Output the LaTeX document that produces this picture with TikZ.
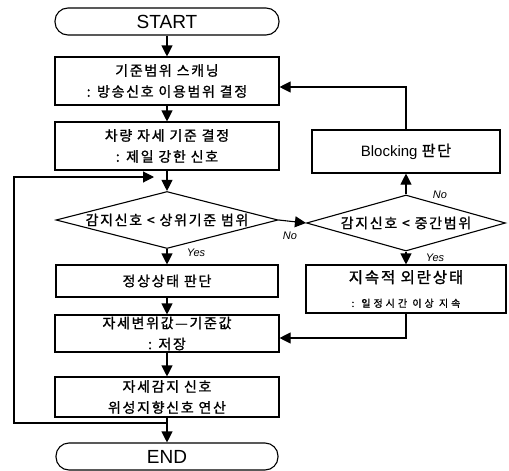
\documentclass[tikz,border=0pt]{standalone}
\usepackage{fontspec}
\setmainfont{Liberation Sans}
\newfontfamily\kr[LetterSpace=12,FakeBold=1.2]{Noto Sans CJK KR}
\usetikzlibrary{arrows.meta,shapes.geometric,calc}
\tikzset{
 box/.style={draw, line width=1.1pt, minimum width=224pt, minimum height=48pt, inner sep=0pt, align=center, font=\kr\fontsize{14}{21}\selectfont},
 term/.style={draw, line width=1.1pt, rounded corners=13pt, minimum width=224pt, minimum height=27pt, inner sep=0pt, font=\fontsize{19}{19}\selectfont},
 dia/.style={draw, diamond, line width=1.1pt, inner sep=0pt, font=\kr\fontsize{14}{14}\selectfont},
 arr/.style={line width=1.1pt, -{Triangle[length=11pt,width=11pt]}},
 ln/.style={line width=1.1pt},
 yn/.style={font=\itshape\fontsize{11}{11}\selectfont, inner sep=0pt},
}
\begin{document}
\begin{tikzpicture}[x=1pt,y=-1pt]
\useasboundingbox (0,0) rectangle (509,471);
\node[term] (start) at (167,21.5) {START};
\node[box] (b1) at (167,81) {기준범위 스캐닝\\: 방송신호 이용범위 결정};
\node[box] (b2) at (167,146) {차량 자세 기준 결정\\: 제일 강한 신호};
\node[dia, minimum width=222pt, minimum height=57pt] (d1) at (167,220) {\makebox[0pt]{감지신호 < 상위기준 범위}};
\node[box, minimum width=222pt, minimum height=32pt] (b3) at (167,281) {정상상태 판단};
\node[box, minimum height=37pt] (b4) at (167,333.5) {자세변위값—기준값\\: 저장};
\node[box, minimum height=40pt] (b5) at (167,397) {자세감지 신호\\위성지향신호 연산};
\node[term, minimum width=222pt] (end) at (167,456.5) {END};
\node[box, minimum width=188pt, minimum height=43pt, font=\fontsize{15}{15}\selectfont] (blk) at (406,151.5) {Blocking {\kr 판단}};
\node[dia, minimum width=199pt, minimum height=56pt] (d2) at (406,223) {\makebox[0pt]{감지신호 < 중간범위}};
\node[box, minimum width=200pt, minimum height=48pt] (b6) at (406,289) {{\fontsize{15.5}{15.5}\selectfont 지속적 외란상태}\\[3pt]{\fontsize{10}{10}\selectfont\addfontfeature{LetterSpace=30} : 일정시간 이상 지속}};
% connectors
\draw[arr] (start) -- (b1);
\draw[arr] (b1) -- (b2);
\draw[arr] (b2) -- (d1);
\draw[arr] (d1) -- (b3);
\draw[arr] (b3) -- (b4);
\draw[arr] (b4) -- (b5);
\coordinate (j) at (167,423);
\coordinate (lb) at (14,423);
\coordinate (lt) at (14,177);
\coordinate (li) at (154,177);
\draw[ln] (b5.south) -- (j);
\draw[arr] (j) -- (end);
\draw[arr] (j) -- (lb) -- (lt) -- (li);
\draw[arr] (d1.east) -- (d2.west);
\draw[arr] (d2.north) -- (blk.south);
\draw[arr] (d2.south) -- (b6.north);
\coordinate (fb) at ($(b1.east)+(0,6)$);
\draw[arr] (blk.north) |- (fb);
\coordinate (fb2) at ($(b4.east)+(0,4.5)$);
\draw[arr] (b6.south) |- (fb2);
% labels
\node[yn] (no1) at (290,236) {No};
\node[yn] (no2) at (440,195) {No};
\node[yn] (yes1) at (196,253) {Yes};
\node[yn] (yes2) at (435,258) {Yes};
\end{tikzpicture}
\end{document}
